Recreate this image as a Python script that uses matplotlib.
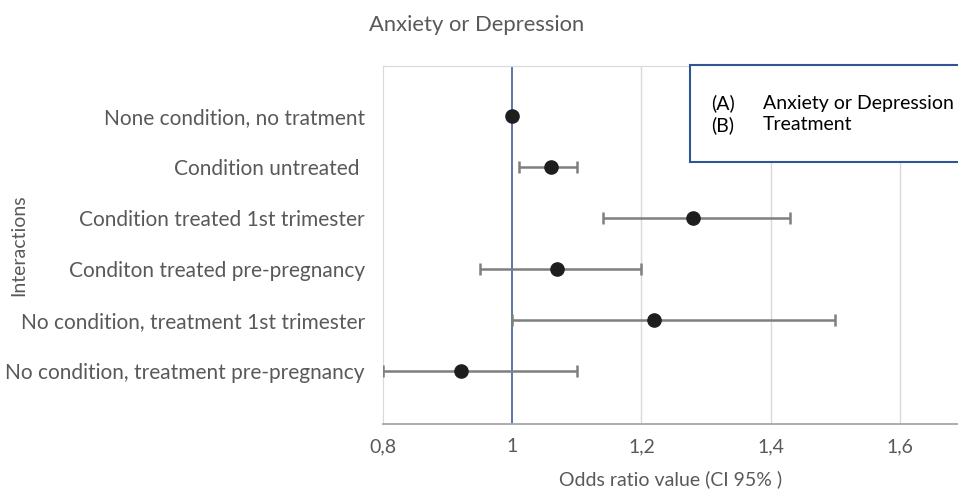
import matplotlib

matplotlib.use("Agg")
import matplotlib.pyplot as plt  # noqa: E402
from matplotlib.patches import Rectangle  # noqa: E402

plt.rcParams["font.family"] = ["Lato", "DejaVu Sans"]

# data
labels = [
    "None condition, no tratment",
    "Condition untreated ",
    "Condition treated 1st trimester",
    "Conditon treated pre-pregnancy",
    "No condition, treatment 1st trimester",
    "No condition, treatment pre-pregnancy",
]
odds = [1.00, 1.06, 1.28, 1.07, 1.22, 0.92]
ci_low = [1.00, 1.01, 1.14, 0.95, 1.00, 0.80]
ci_high = [1.00, 1.10, 1.43, 1.20, 1.50, 1.10]
xticks = [0.8, 1.0, 1.2, 1.4, 1.6]
xticklabels = ["0,8", "1", "1,2", "1,4", "1,6"]

GRAY = "#595959"

fig = plt.figure(figsize=(9.58, 4.9), dpi=100)
ax = fig.add_axes([0.3998, 0.1347, 0.6002, 0.7306])

ypos = list(range(len(labels)))
lo = [o - l for o, l in zip(odds, ci_low)]
hi = [h - o for o, h in zip(odds, ci_high)]
has_bar = [h > l for l, h in zip(ci_low, ci_high)]
ax.errorbar(
    [o for o, b in zip(odds, has_bar) if b],
    [y for y, b in zip(ypos, has_bar) if b],
    xerr=[[v for v, b in zip(lo, has_bar) if b], [v for v, b in zip(hi, has_bar) if b]],
    fmt="none", ecolor="#7F7F7F", elinewidth=1.8, capsize=4.5, capthick=1.8, zorder=3,
)
ax.plot(odds, ypos, "o", color="#1E1E1E", markersize=9.5, zorder=4)

ax.axvline(1.0, color="#40609A", lw=1.2, zorder=2)
for x in xticks[1:]:
    if x != 1.0:
        ax.axvline(x, color="#D9D9D9", lw=1.0, zorder=1)

ax.set_xlim(0.8, 1.69)
ax.set_ylim(len(labels) - 1 + 1.04, -0.98)
ax.set_xticks(xticks)
ax.set_xticklabels(xticklabels, color=GRAY, fontsize=14)
ax.set_yticks(ypos)
ax.set_yticklabels(labels, color=GRAY, fontsize=15)
ax.tick_params(length=0, pad=13, axis="y")
ax.tick_params(length=0, pad=10, axis="x")

ax.spines["left"].set_color("#D9D9D9")
ax.spines["top"].set_color("#D9D9D9")
ax.spines["right"].set_visible(False)
ax.spines["bottom"].set_color("#A6A6A6")
ax.spines["bottom"].set_linewidth(1.3)

ax.set_xlabel("Odds ratio value (CI 95% )", color=GRAY, fontsize=14, labelpad=11)
fig.text(0.02, 0.5, "Interactions", rotation=90, color=GRAY, fontsize=14,
         ha="center", va="center")
fig.text(0.497, 0.948, "Anxiety or Depression", color=GRAY, fontsize=15.8,
         ha="center", va="center")

# key box
fig.patches.append(Rectangle((690 / 958, 1 - 162 / 490), 0.35, 97 / 490,
                             transform=fig.transFigure, fill=True, facecolor="white",
                             edgecolor="#2F5597", lw=1.5, zorder=5))
for y, tag, txt in [(103, "(A)", "Anxiety or Depression"), (125, "(B)", "Treatment")]:
    fig.text(711 / 958, 1 - y / 490, tag, fontsize=14, color="black", va="center", zorder=6)
    fig.text(763 / 958, 1 - y / 490, txt, fontsize=14, color="black", va="center", zorder=6)

fig.savefig("out.png", dpi=100)
